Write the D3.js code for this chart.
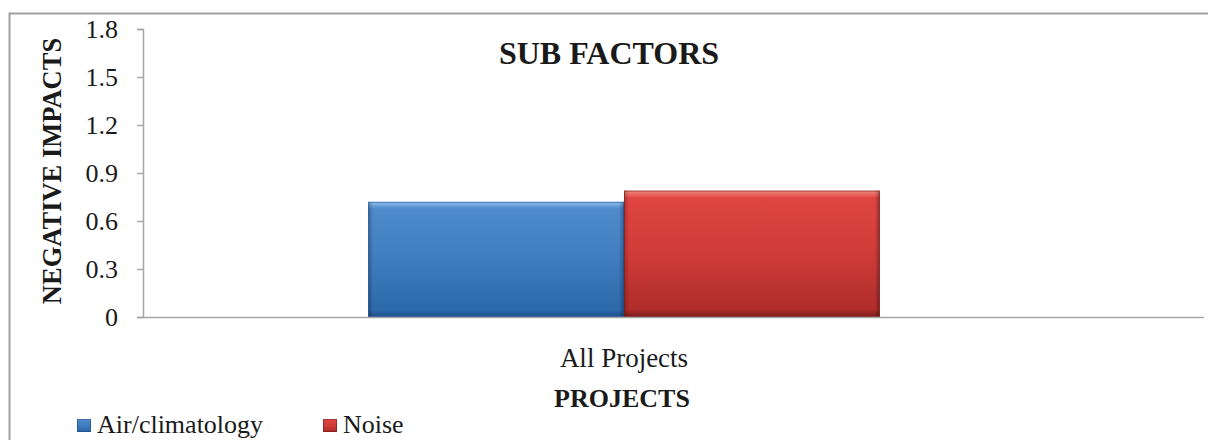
<!DOCTYPE html>
<html>
<head>
<meta charset="utf-8">
<script src="https://cdn.jsdelivr.net/npm/d3@7/dist/d3.min.js"></script>
<style>
  html, body { margin: 0; padding: 0; background: #fff; }
  svg { display: block; }
  text { font-family: "Liberation Serif", "Times New Roman", serif; fill: #1a1a1a; }
</style>
</head>
<body>
<svg id="chart" width="1208" height="440"></svg>
<script>
// Chart data
const categories = ["All Projects"];
const seriesNames = ["Air/climatology", "Noise"];
const seriesValues = [[0.72], [0.79]];
const yTicks = [0, 0.3, 0.6, 0.9, 1.2, 1.5, 1.8];
const chartTitle = "SUB FACTORS";
const yTitle = "NEGATIVE IMPACTS";
const xTitle = "PROJECTS";
const seriesColors = [
  { top: "#4f8bcc", mid: "#3f7dc0", bot: "#2c69aa", edgeLight: "#8fc0ee", edgeDark: "#1f4f8a" },
  { top: "#df4540", mid: "#d03c38", bot: "#ae2d2a", edgeLight: "#f08a80", edgeDark: "#7e1c1b" }
];

const svg = d3.select("#chart");
const plot = { left: 143, right: 1105, top: 29, bottom: 317, axisEnd: 1204 };

// outer chart frame
svg.append("rect")
  .attr("x", 9.5).attr("y", 13.5)
  .attr("width", 1260).attr("height", 500)
  .attr("fill", "none").attr("stroke", "#a0a0a0").attr("stroke-width", 2);

const y = d3.scaleLinear().domain([0, 1.8]).range([plot.bottom, plot.top]);
const x0 = d3.scaleBand().domain(categories).range([plot.left, plot.right]).paddingInner(0).paddingOuter(0.44);
const x1 = d3.scaleBand().domain(d3.range(seriesNames.length)).range([0, x0.bandwidth()]).padding(0);

// bar gradients: vertical shading plus darker side edges
const defs = svg.append("defs");
seriesColors.forEach((c, i) => {
  const g = defs.append("linearGradient").attr("id", "grad" + i)
    .attr("x1", 0).attr("y1", 0).attr("x2", 0).attr("y2", 1);
  g.append("stop").attr("offset", "0%").attr("stop-color", c.edgeLight);
  g.append("stop").attr("offset", "6%").attr("stop-color", c.top);
  g.append("stop").attr("offset", "50%").attr("stop-color", c.mid);
  g.append("stop").attr("offset", "94%").attr("stop-color", c.bot);
  g.append("stop").attr("offset", "100%").attr("stop-color", c.edgeDark);
  const s = defs.append("linearGradient").attr("id", "side" + i)
    .attr("x1", 0).attr("y1", 0).attr("x2", 1).attr("y2", 0);
  s.append("stop").attr("offset", "0%").attr("stop-color", "#000").attr("stop-opacity", 0.25);
  s.append("stop").attr("offset", "2%").attr("stop-color", "#000").attr("stop-opacity", 0);
  s.append("stop").attr("offset", "98%").attr("stop-color", "#000").attr("stop-opacity", 0);
  s.append("stop").attr("offset", "100%").attr("stop-color", "#000").attr("stop-opacity", 0.3);
});

// y axis
const yAxis = d3.axisLeft(y).tickValues(yTicks).tickSize(6).tickPadding(19)
  .tickFormat(d => d === 0 ? "0" : d3.format(".1f")(d));
const yg = svg.append("g").attr("transform", `translate(${plot.left},0)`).call(yAxis);
yg.select(".domain").attr("stroke", "#a6a6a6").attr("stroke-width", 1.5);
yg.selectAll(".tick line").attr("stroke", "#a6a6a6").attr("stroke-width", 1.5);
yg.selectAll(".tick text").attr("font-size", 26).attr("font-family", "Liberation Serif").attr("fill", "#1a1a1a");

// bars
const groups = svg.append("g").selectAll("g").data(categories).join("g")
  .attr("transform", d => `translate(${x0(d)},0)`);
seriesNames.forEach((name, si) => {
  groups.each(function(cat, ci) {
    const v = seriesValues[si][ci];
    const bx = x1(si), bw = x1.bandwidth();
    const g = d3.select(this);
    g.append("rect").attr("x", bx).attr("y", y(v)).attr("width", bw).attr("height", y(0) - y(v))
      .attr("fill", `url(#grad${si})`);
    g.append("rect").attr("x", bx).attr("y", y(v)).attr("width", bw).attr("height", y(0) - y(v))
      .attr("fill", `url(#side${si})`);
    g.append("rect").attr("x", bx + 0.5).attr("y", y(v) + 0.5).attr("width", bw - 1).attr("height", y(0) - y(v) - 1)
      .attr("fill", "none").attr("stroke", seriesColors[si].edgeDark).attr("stroke-opacity", 0.6).attr("stroke-width", 1);
  });
});

// x axis line
svg.append("line")
  .attr("x1", plot.left).attr("x2", plot.axisEnd)
  .attr("y1", plot.bottom + 0.5).attr("y2", plot.bottom + 0.5)
  .attr("stroke", "#a6a6a6").attr("stroke-width", 1.5);

// category label
svg.append("g").selectAll("text").data(categories).join("text")
  .attr("x", d => x0(d) + x0.bandwidth() / 2).attr("y", 367)
  .attr("text-anchor", "middle").attr("font-size", 27).text(d => d);

// titles
svg.append("text").attr("x", 609).attr("y", 64).attr("text-anchor", "middle")
  .attr("font-size", 32).attr("font-weight", "bold").text(chartTitle);
svg.append("text").attr("transform", "translate(61,171) rotate(-90)").attr("text-anchor", "middle")
  .attr("font-size", 26.5).attr("font-weight", "bold").text(yTitle);
svg.append("text").attr("x", 622).attr("y", 407).attr("text-anchor", "middle")
  .attr("font-size", 26).attr("font-weight", "bold").text(xTitle);

// legend
const legendX = [77, 323];
const lg = svg.append("g").selectAll("g").data(seriesNames).join("g")
  .attr("transform", (d, i) => `translate(${legendX[i]},419)`);
lg.append("rect").attr("width", 14).attr("height", 13).attr("fill", (d, i) => `url(#grad${i})`);
lg.append("rect").attr("x", 0.5).attr("y", 0.5).attr("width", 13).attr("height", 12)
  .attr("fill", "none").attr("stroke", (d, i) => seriesColors[i].edgeDark).attr("stroke-opacity", 0.6);
lg.append("text").attr("x", 20).attr("y", 14).attr("font-size", 26).text(d => d);
</script>
</body>
</html>
